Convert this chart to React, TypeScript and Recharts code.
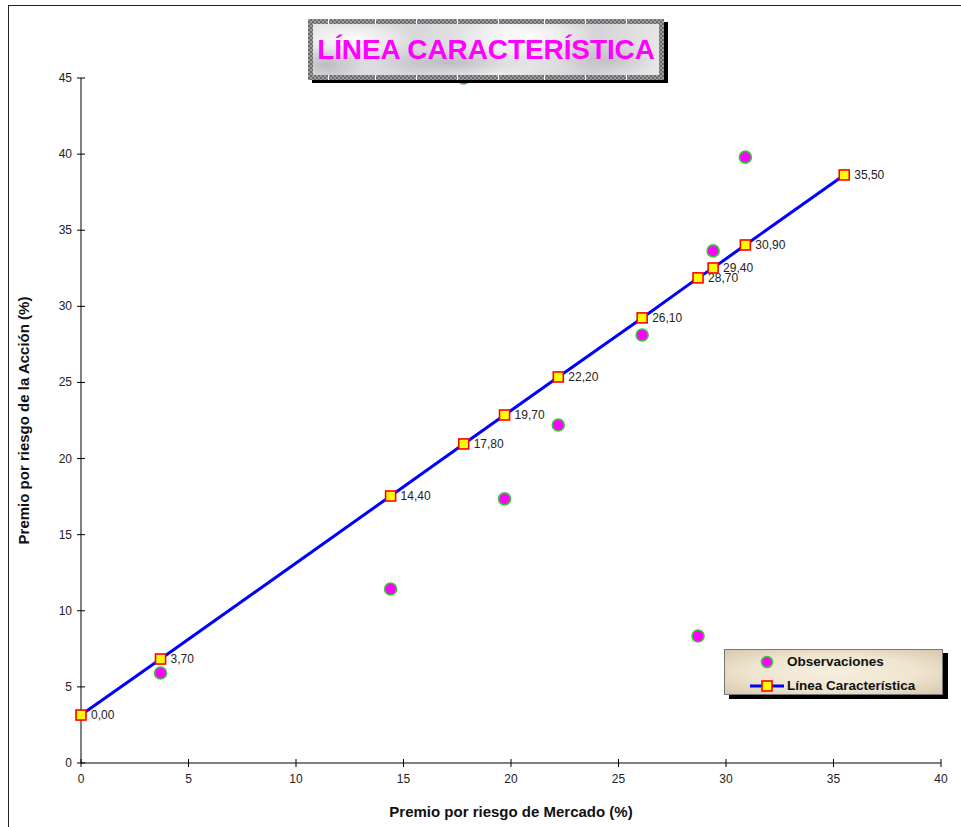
import React from 'react';
import { ScatterChart, Scatter, XAxis, YAxis, Legend } from 'recharts';

// Market premium (x) for the fitted line and its predicted stock premium (y)
const lineMarket = [0, 3.7, 14.4, 17.8, 19.7, 22.2, 26.1, 28.7, 29.4, 30.9, 35.5];
const lineStock = [3.15, 6.83, 17.54, 20.96, 22.86, 25.36, 29.24, 31.87, 32.52, 34.03, 38.63];

// Observed pairs
const obsMarket = [3.7, 14.4, 17.8, 19.7, 22.2, 26.1, 28.7, 29.4, 30.9];
const obsStock = [5.91, 11.43, 45.0, 17.35, 22.2, 28.12, 8.34, 33.64, 39.8];

const xTicks = [0, 5, 10, 15, 20, 25, 30, 35, 40];
const yTicks = [0, 5, 10, 15, 20, 25, 30, 35, 40, 45];

const lineData = lineMarket.map((x, i) => ({ x, y: lineStock[i] }));
const obsData = obsMarket.map((x, i) => ({ x, y: obsStock[i] }));

const FONT = '"Liberation Sans", Arial, sans-serif';
const W = 961;
const H = 827;
const PLOT_LEFT = 81;
const PLOT_BOTTOM = 763;

const fmt = (v: number) => v.toFixed(2).replace('.', ',');

const YTick = ({ y, payload }: any) => (
    <g>
        <line x1={PLOT_LEFT - 4} x2={PLOT_LEFT + 4} y1={y} y2={y} stroke="#000" />
        <text x={PLOT_LEFT - 9} y={y} textAnchor="end" dominantBaseline="central" fontSize={12} fill="#222" fontFamily={FONT}>
            {payload.value}
        </text>
    </g>
);

const XTick = ({ x, payload }: any) => (
    <g>
        <line x1={x} x2={x} y1={PLOT_BOTTOM - 4} y2={PLOT_BOTTOM + 4} stroke="#000" />
        <text x={x} y={PLOT_BOTTOM + 16} textAnchor="middle" dominantBaseline="central" fontSize={12} fill="#222" fontFamily={FONT}>
            {payload.value}
        </text>
    </g>
);

const yTitle = ({ viewBox }: any) => {
    const cx = viewBox.x + 23;
    const cy = viewBox.y + viewBox.height / 2;
    return (
        <text x={cx} y={cy} transform={`rotate(-90 ${cx} ${cy})`} textAnchor="middle" dominantBaseline="central"
            fontSize={15} fontWeight="bold" fill="#111" fontFamily={FONT}>
            Premio por riesgo de la Acción (%)
        </text>
    );
};

const xTitle = ({ viewBox }: any) => (
    <text x={viewBox.x + viewBox.width / 2} y={viewBox.y + 48} textAnchor="middle" dominantBaseline="central"
        fontSize={15} fontWeight="bold" fill="#111" fontFamily={FONT}>
        Premio por riesgo de Mercado (%)
    </text>
);

const ObsDot = ({ cx, cy }: any) => (
    <circle cx={cx} cy={cy} r={6} fill="#FF00FF" stroke="#33CC33" strokeWidth={1.6} />
);

// yellow square marker with its x value printed to the right
const LinePoint = ({ cx, cy, payload }: any) => (
    <g>
        <rect x={cx - 5} y={cy - 5} width={10} height={10} fill="#FFFF00" stroke="#FF0000" strokeWidth={1.6} />
        <text x={cx + 10} y={cy} dominantBaseline="central" fontSize={12} fill="#222" fontFamily={FONT}>
            {fmt(payload.x)}
        </text>
    </g>
);

const LegendBox = () => (
    <div style={{
        width: 219, height: 46, boxSizing: 'border-box', border: '1px solid #777',
        background: 'radial-gradient(ellipse at 50% 50%, #f6efdf 0%, #efe5d0 55%, #d6c8aa 100%)',
        boxShadow: '5px 4px 0 #000', fontFamily: FONT, fontWeight: 'bold', fontSize: 13.5, color: '#111',
        position: 'relative',
    }}>
        <svg width={60} height={46} style={{ position: 'absolute', left: 0, top: 0 }}>
            <circle cx={42} cy={12} r={5.5} fill="#FF00FF" stroke="#33CC33" strokeWidth={1.6} />
            <line x1={25} x2={59} y1={36} y2={36} stroke="#0000FF" strokeWidth={3} />
            <rect x={37} y={31} width={10} height={10} fill="#FFFF00" stroke="#FF0000" strokeWidth={1.6} />
        </svg>
        <div style={{ position: 'absolute', left: 62, top: 4 }}>Observaciones</div>
        <div style={{ position: 'absolute', left: 62, top: 28 }}>Línea Característica</div>
    </div>
);

const frameMarks = [20, 67, 108, 149, 190, 236, 277, 318];

const TitleBox = () => (
    <div style={{
        position: 'absolute', left: 308, top: 19, width: 356, height: 61, boxSizing: 'border-box', padding: 5,
        background: 'repeating-conic-gradient(#6c6c6c 0 25%, #9c9c9c 0 50%) 0 0 / 4px 4px',
        boxShadow: '4px 3px 0 #000',
    }}>
        {frameMarks.map((m) => (
            <React.Fragment key={m}>
                <span style={{ position: 'absolute', left: m, top: 0, width: 1, height: 5, background: '#fff' }} />
                <span style={{ position: 'absolute', left: m, bottom: 0, width: 1, height: 5, background: '#fff' }} />
            </React.Fragment>
        ))}
        <div style={{
            width: '100%', height: '100%', display: 'flex', alignItems: 'center', justifyContent: 'center',
            background: [
                'radial-gradient(ellipse 60px 18px at 12% 30%, rgba(255,255,255,0.95), transparent)',
                'radial-gradient(ellipse 80px 14px at 40% 75%, rgba(160,160,165,0.55), transparent)',
                'radial-gradient(ellipse 70px 20px at 62% 25%, rgba(255,255,255,0.9), transparent)',
                'radial-gradient(ellipse 50px 16px at 85% 70%, rgba(170,170,175,0.5), transparent)',
                'radial-gradient(ellipse 40px 20px at 4% 80%, rgba(150,150,155,0.5), transparent)',
                'linear-gradient(100deg, #e6e6e8, #d8d8dc 30%, #ededef 55%, #d4d4d8 80%, #e8e8ea)',
            ].join(', '),
        }}>
            <span style={{ fontFamily: FONT, fontWeight: 'bold', fontSize: 28, color: '#FF00FF', letterSpacing: -0.1 }}>
                LÍNEA CARACTERÍSTICA
            </span>
        </div>
    </div>
);

export default function App() {
    return (
        <div style={{ position: 'absolute', left: 0, top: 0, width: W, height: H, background: '#fff', overflow: 'hidden' }}>
            {/* outer chart-area border */}
            <div style={{ position: 'absolute', left: 8, top: 5, width: 1100, height: 1000, border: '1.5px solid #222' }} />
            <div style={{ position: 'absolute', left: 0, top: 0 }}>
                <ScatterChart width={W} height={H} margin={{ top: 78, right: 20, bottom: 0, left: 0 }}>
                    <XAxis type="number" dataKey="x" domain={[0, 40]} ticks={xTicks} height={64}
                        axisLine={{ stroke: '#000' }} tickLine={false} tick={<XTick />} label={xTitle} />
                    <YAxis type="number" dataKey="y" domain={[0, 45]} ticks={yTicks} width={81}
                        axisLine={{ stroke: '#000' }} tickLine={false} tick={<YTick />} label={yTitle} />
                    <Legend layout="vertical" align="center" verticalAlign="middle"
                        wrapperStyle={{ left: 724, top: 649, width: 219, height: 46 }} content={<LegendBox />} />
                    <Scatter name="Observaciones" data={obsData} shape={<ObsDot />} isAnimationActive={false} />
                    <Scatter name="Línea Característica" data={lineData} shape={<LinePoint />}
                        line={{ stroke: '#0000FF', strokeWidth: 3 }} isAnimationActive={false} />
                </ScatterChart>
            </div>
            <TitleBox />
        </div>
    );
}
